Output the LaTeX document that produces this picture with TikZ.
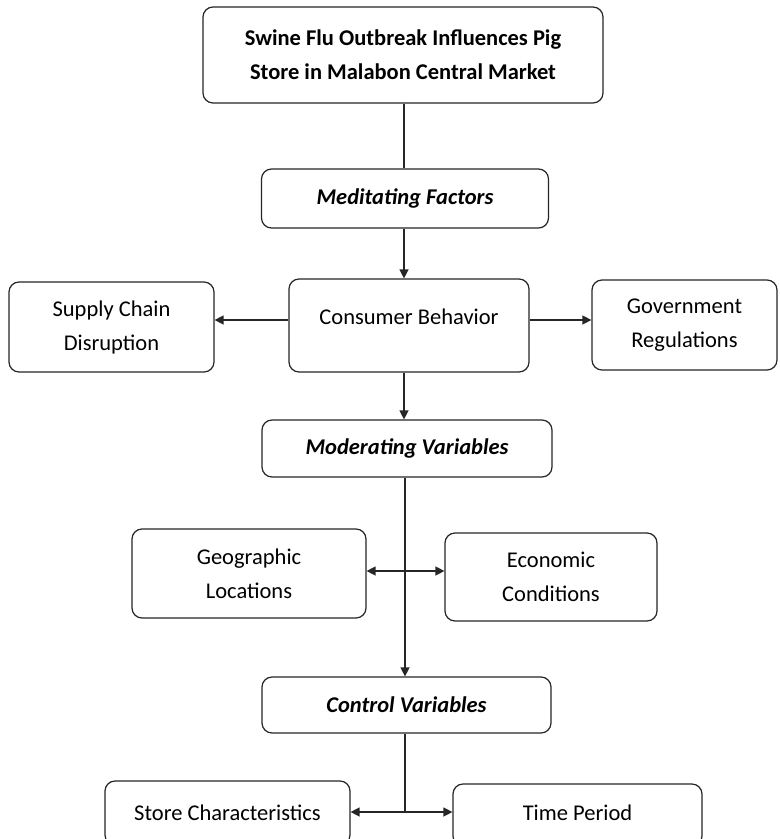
\documentclass[tikz,border=0pt]{standalone}
\usepackage{fontspec}
\setmainfont{Carlito}
\usetikzlibrary{arrows.meta,calc}
\tikzset{
  box/.style={draw=black!85, line width=1.2pt, rounded corners=10pt, align=center, inner sep=0pt,
    font=\fontsize{22.5}{34}\selectfont},
  conn/.style={draw=black!85, line width=1.3pt},
  arr/.style={conn, -{Triangle[length=9pt,width=9pt]}},
  darr/.style={conn, {Triangle[length=9pt,width=9pt]}-{Triangle[length=9pt,width=9pt]}},
}
\begin{document}
\begin{tikzpicture}[x=1pt,y=-1pt]
\useasboundingbox (0,0) rectangle (780,839);
\clip (0,0) rectangle (780,839);
\fill[white] (0,0) rectangle (780,839);

\node[box, minimum width=400pt, minimum height=96pt, font=\fontsize{22.5}{34}\selectfont\bfseries] (title) at (403,55)
  {Swine Flu Outbreak Influences Pig\\Store in Malabon Central Market};
\node[box, minimum width=287pt, minimum height=59pt, font=\fontsize{22.5}{34}\selectfont\bfseries\itshape] (medit) at (405,198.5) {Meditating Factors};

\node[box, minimum width=240pt, minimum height=93pt] (cons) at (409,325.5) {};
\node[align=center, inner sep=0pt, font=\fontsize{22.5}{34}\selectfont] (consT) at (409,317) {Consumer Behavior};
\node[box, minimum width=205pt, minimum height=90pt] (supply) at (111.5,327) {Supply Chain\\Disruption};
\node[box, minimum width=185pt, minimum height=90pt] (gov) at (684.5,325) {Government\\Regulations};

\node[box, minimum width=290pt, minimum height=57pt, font=\fontsize{22.5}{34}\selectfont\bfseries\itshape] (moder) at (407,448.5) {Moderating Variables};

\node[box, minimum width=234pt, minimum height=89pt] (geo) at (249,573.5) {Geographic\\Locations};
\node[box, minimum width=212pt, minimum height=88pt] (econ) at (551,577) {Economic\\Conditions};

\node[box, minimum width=289pt, minimum height=56pt, font=\fontsize{22.5}{34}\selectfont\bfseries\itshape] (ctrl) at (406.5,705) {Control Variables};

\node[box, minimum width=245pt, minimum height=64pt] (store) at (227.5,813) {Store Characteristics};
\node[box, minimum width=249pt, minimum height=62pt] (time) at (577.5,815) {};
\node[inner sep=0pt, font=\fontsize{22.5}{34}\selectfont] (timeT) at (577.5,813) {Time Period};

% connectors
\coordinate (s1) at (404,0);
\draw[conn] (title.south -| s1) -- (medit.north -| s1);
\draw[arr] (medit.south -| s1) -- (cons.north -| s1);
\coordinate (hy1) at (0,320);
\draw[arr] (cons.west |- hy1) -- (supply.east |- hy1);
\draw[arr] (cons.east |- hy1) -- (gov.west |- hy1);
\draw[arr] (cons.south -| s1) -- (moder.north -| s1);
\coordinate (s2) at (405,0);
\draw[arr] (moder.south -| s2) -- (ctrl.north -| s2);
\coordinate (hy2) at (0,571);
\draw[darr] (geo.east |- hy2) -- (econ.west |- hy2);
\coordinate (hy3) at (0,812);
\coordinate (j3) at (405,812);
\draw[conn] (ctrl.south -| s2) -- (j3);
\draw[darr] (store.east |- hy3) -- (time.west |- hy3);
\end{tikzpicture}
\end{document}
